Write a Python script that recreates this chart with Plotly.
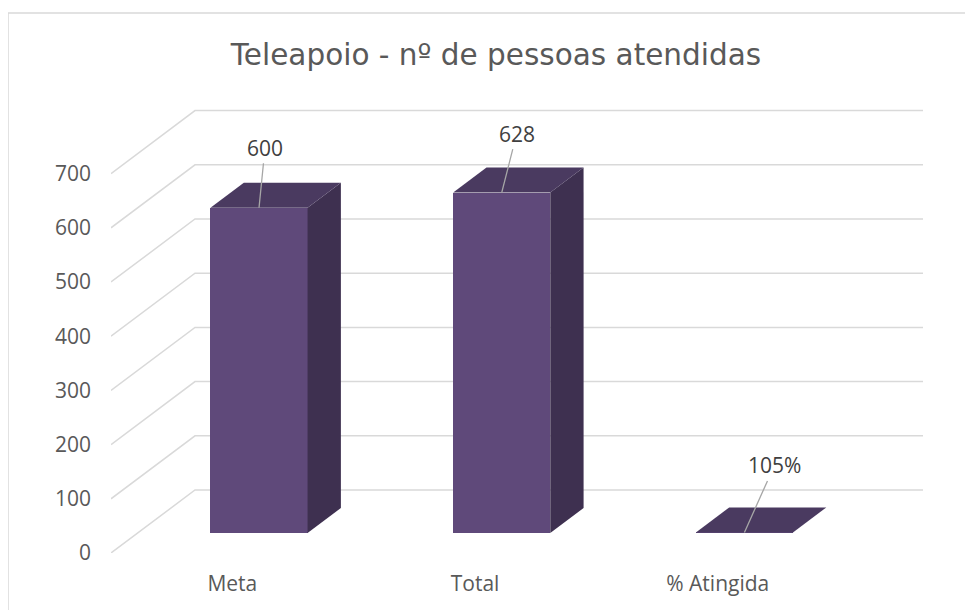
import plotly.graph_objects as go

# ---------------- data ----------------
categories = ["Meta", "Total", "% Atingida"]
values = [600, 628, 1.05]
value_labels = ["600", "628", "105%"]
y_ticks = [0, 100, 200, 300, 400, 500, 600, 700]
title_text = "Teleapoio - nº de pessoas atendidas"

# ---------------- style / geometry ----------------
W, H = 973, 610
OFF = 8                 # page body margin compensation
L, R = 111 - OFF, 50 + OFF
T, B = 109 - OFF, 57 + OFF
plot_w = W - L - R
plot_h = H - T - B
cat_px = 242.7          # pixels per category
val_px = 0.542          # pixels per value unit
DX = 84 / cat_px        # full floor depth in x units
DY = 63 / val_px        # full floor depth in y units
x_max = plot_w / cat_px
y_max = plot_h / val_px
f_front = 20 / 63
f_back = 45 / 63
bar_w = 0.4

FRONT = "#5f497a"
TOP = "#4a3a60"
SIDE = "#3e3050"
GRID = "#d9d9d9"
TXT = "#595959"

fig = go.Figure()

# gridlines: side wall diagonal + back wall horizontal (below the bars)
for v in y_ticks:
    fig.add_shape(type="path", xref="x", yref="y", layer="below",
                  path=f"M 0 {v} L {DX} {v + DY} L {len(categories) + DX} {v + DY}",
                  line=dict(color=GRID, width=1.5))

bx = (f_back - f_front) * DX
by = (f_back - f_front) * DY
base0 = f_front * DY
centers = [i + 0.5 + f_front * DX for i in range(len(categories))]

for cx, v in zip(centers, values):
    x0, x1 = cx - bar_w / 2, cx + bar_w / 2
    y0, y1 = base0, base0 + v
    # side face
    fig.add_trace(go.Scatter(x=[x1, x1 + bx, x1 + bx, x1, x1],
                             y=[y0, y0 + by, y1 + by, y1, y0],
                             mode="lines", fill="toself", fillcolor=SIDE,
                             line=dict(width=0, color=SIDE),
                             hoverinfo="skip", showlegend=False))
    # top face
    fig.add_trace(go.Scatter(x=[x0, x1, x1 + bx, x0 + bx, x0],
                             y=[y1, y1, y1 + by, y1 + by, y1],
                             mode="lines", fill="toself", fillcolor=TOP,
                             line=dict(width=0, color=TOP),
                             hoverinfo="skip", showlegend=False))

# front faces
fig.add_trace(go.Bar(x=centers, y=values, base=[base0] * len(values),
                     width=bar_w, marker=dict(color=FRONT, line=dict(width=0)),
                     showlegend=False, hoverinfo="skip"))

# value labels with leader lines
offsets = [(6, -60), (15, -59), (30, -67)]
for cx, v, lab, (ax, ay) in zip(centers, values, value_labels, offsets):
    fig.add_annotation(x=cx, y=base0 + v, text=lab, showarrow=True,
                       arrowhead=0, arrowwidth=1.3, arrowcolor="#a6a6a6",
                       ax=ax, ay=ay, standoff=0,
                       font=dict(family="Open Sans", size=21, color="#404040"))

# outer border
fig.add_shape(type="rect", xref="paper", yref="paper",
              x0=(8 - OFF - L) / plot_w, x1=(990 - L) / plot_w,
              y0=((H - B) - 630) / plot_h, y1=((H - B) - (13 - OFF)) / plot_h,
              line=dict(color=GRID, width=1.5), fillcolor="rgba(0,0,0,0)",
              layer="below")

fig.update_layout(
    width=W, height=H,
    margin=dict(l=L, r=R, t=T, b=B),
    paper_bgcolor="white", plot_bgcolor="white",
    showlegend=False,
    bargap=0,
    title=dict(text=title_text, x=(496 - OFF) / W, xref="container", xanchor="center",
               y=1 - (55 - OFF) / H, yref="container", yanchor="middle",
               font=dict(family="DejaVu Sans", size=29.5, color=TXT)),
    xaxis=dict(range=[0, x_max], tickvals=[i + 0.5 for i in range(len(categories))],
               ticktext=categories, showgrid=False, zeroline=False, showline=False,
               ticks="", ticklabelstandoff=16,
               tickfont=dict(family="Open Sans", size=21, color=TXT)),
    yaxis=dict(range=[0, y_max], tickvals=y_ticks, showgrid=False, zeroline=False,
               showline=False, ticks="", ticklabelstandoff=19,
               tickfont=dict(family="Open Sans", size=21, color=TXT)),
)

fig.write_html("out.html")
